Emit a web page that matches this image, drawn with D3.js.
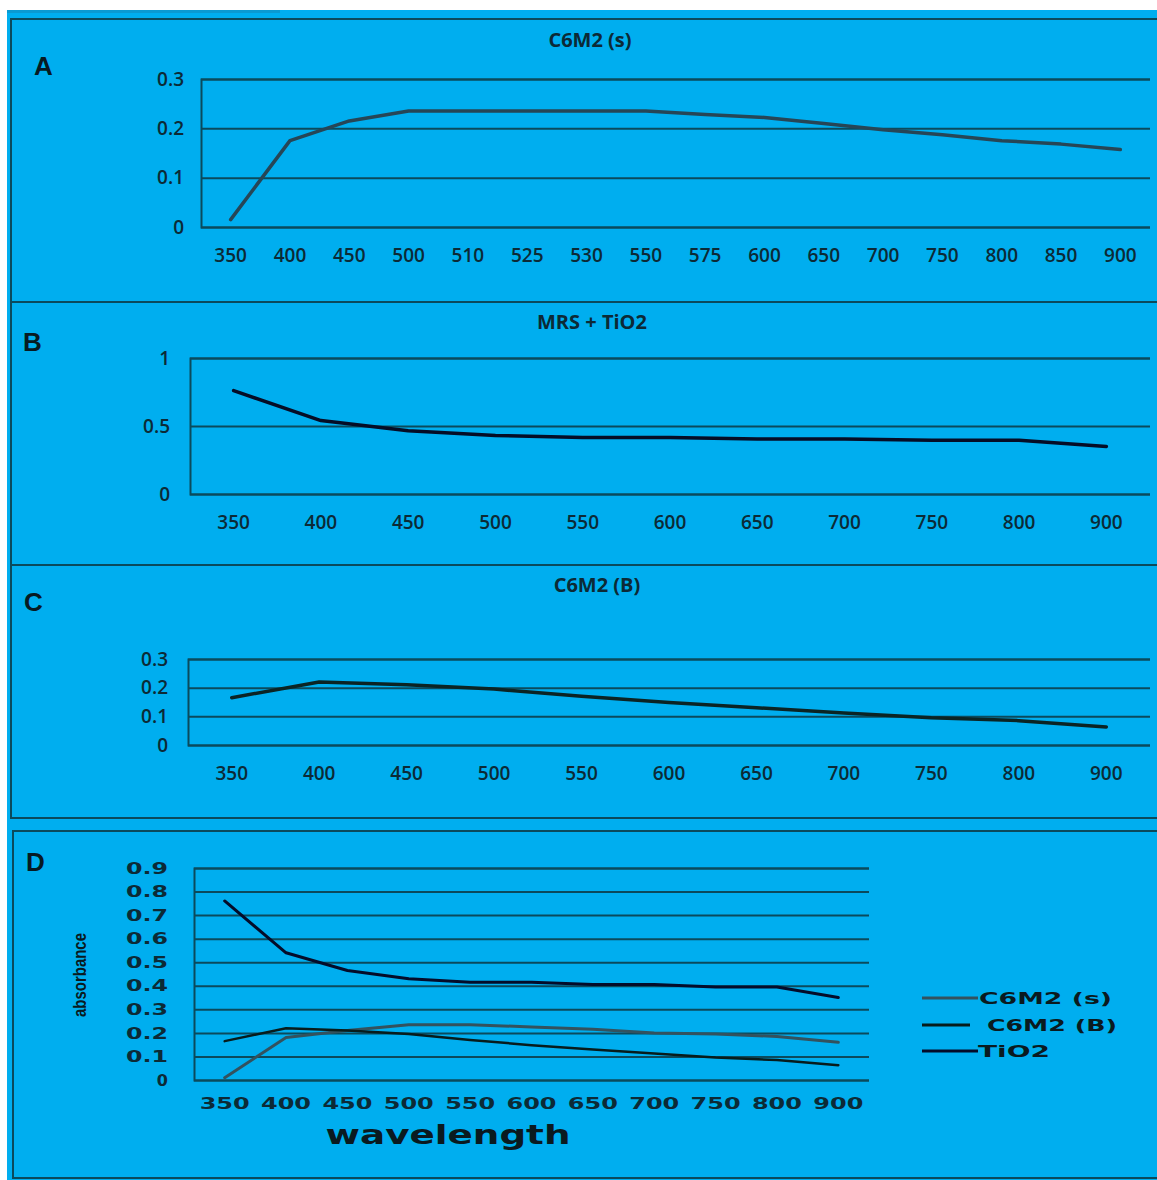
<!DOCTYPE html>
<html>
<head>
<meta charset="utf-8">
<script src="https://cdn.jsdelivr.net/npm/d3@7"></script>
<style>
  body { margin: 0; background: #fff; }
  svg { display: block; }
</style>
</head>
<body>
<div id="chart"></div>
<script>
// panel A: C6M2 (s)
const wavesA = ['350', '400', '450', '500', '510', '525', '530', '550', '575', '600', '650', '700', '750', '800', '850', '900']
const c6m2sA = [0.015, 0.175, 0.215, 0.235, 0.235, 0.235, 0.235, 0.235, 0.228, 0.222, 0.21, 0.197, 0.187, 0.175, 0.168, 0.157]

// panels B, C, D share these wavelengths
const waves = ['350', '400', '450', '500', '550', '600', '650', '700', '750', '800', '900']
const tio2 = [0.76, 0.54, 0.465, 0.43, 0.415, 0.415, 0.405, 0.405, 0.395, 0.395, 0.35]
const c6m2b = [0.165, 0.22, 0.21, 0.195, 0.17, 0.148, 0.13, 0.112, 0.095, 0.085, 0.063]
const c6m2sD = [0.01, 0.18, 0.21, 0.235, 0.235, 0.225, 0.215, 0.2, 0.195, 0.185, 0.16]

const ticksA = [0, 0.1, 0.2, 0.3]
const ticksB = [0, 0.5, 1]
const ticksC = [0, 0.1, 0.2, 0.3]
const ticksD = [0, 0.1, 0.2, 0.3, 0.4, 0.5, 0.6, 0.7, 0.8, 0.9]

const legendNames = ['C6M2 (s)', ' C6M2 (B)', 'TiO2']

const W = 1157, H = 1180
const blue = '#00aeef'
const grid = '#0b4a5c'
const ink = '#0c2a36'

const svg = d3.select('#chart').append('svg').attr('width', W).attr('height', H)
svg.append('rect').attr('x', 7).attr('y', 10).attr('width', W - 7).attr('height', H - 10).attr('fill', blue)
svg.append('rect').attr('x', 7).attr('y', 10).attr('width', 273).attr('height', 3).attr('fill', '#0a9ad2')

// panel frames
const frames = [[11, 19, 302], [11, 302, 565], [11, 565, 818], [13, 831, 1178]]
frames.forEach(f => {
    svg.append('rect')
        .attr('x', f[0]).attr('y', f[1])
        .attr('width', W + 10 - f[0]).attr('height', f[2] - f[1])
        .attr('fill', 'none').attr('stroke', grid).attr('stroke-width', 2)
})

function styleText(sel, opt, len) {
    sel.attr('fill', ink).style('font-family', opt.font).style('font-size', opt.fs)
        .style('font-weight', opt.fw)
    if (len) {
        sel.attr('textLength', len).attr('lengthAdjust', 'spacingAndGlyphs')
    }
}

function panel(opt) {
    let x = d3.scaleBand().domain(opt.cats).range([opt.left, opt.right])
    let y = d3.scaleLinear().domain([0, opt.max]).range([opt.bottom, opt.top])
    let g = svg.append('g')

    // gridlines
    let yAxis = d3.axisLeft(y).tickValues(opt.ticks).tickSize(-(opt.right - opt.left))
        .tickFormat(d => opt.fmt ? opt.fmt(d) : d3.format('')(d)).tickPadding(opt.tickPad)
    let ga = g.append('g').attr('transform', 'translate(' + opt.left + ',0)').call(yAxis)
    ga.select('.domain').attr('stroke', grid).attr('stroke-width', 2)
    ga.selectAll('line').attr('stroke', grid).attr('stroke-width', 2)
    styleText(ga.selectAll('text'), opt, opt.yLen)

    let xAxis = d3.axisBottom(x).tickSize(0).tickPadding(opt.xPad)
    let gx = g.append('g').attr('transform', 'translate(0,' + opt.bottom + ')').call(xAxis)
    gx.select('.domain').remove()
    styleText(gx.selectAll('text'), opt, opt.xLen)

    opt.series.forEach(s => {
        let line = d3.line()
            .x((d, i) => x(opt.cats[i]) + x.bandwidth() / 2)
            .y(d => y(d))
        g.append('path').datum(s.values)
            .attr('d', line)
            .attr('fill', 'none')
            .attr('stroke', s.color)
            .attr('stroke-width', s.width)
            .attr('stroke-linejoin', 'round')
            .attr('stroke-linecap', 'round')
    })

    if (opt.title) {
        g.append('text').attr('x', opt.titleX).attr('y', opt.titleY)
            .attr('text-anchor', 'middle').attr('fill', ink)
            .style('font-family', 'Open Sans, sans-serif').style('font-size', '20px').style('font-weight', 700)
            .text(opt.title)
    }
    g.append('text').attr('x', opt.letterX).attr('y', opt.letterY)
        .attr('fill', '#071a22')
        .style('font-family', 'Liberation Sans, Arial, sans-serif').style('font-size', '26px').style('font-weight', 700)
        .text(opt.letter)
    return { x, y, g }
}

const calibri = 'Open Sans, sans-serif'

panel({
    cats: wavesA, left: 201, right: 1150, top: 79, bottom: 227, max: 0.3, ticks: ticksA,
    font: calibri, fs: '19px', fw: 600, tickPad: 17, xPad: 22,
    series: [{ values: c6m2sA, color: '#264656', width: 3.5 }],
    title: 'C6M2 (s)', titleX: 590, titleY: 47, letter: 'A', letterX: 34, letterY: 75
})

panel({
    cats: waves, left: 190, right: 1150, top: 358, bottom: 494, max: 1, ticks: ticksB,
    font: calibri, fs: '19px', fw: 600, tickPad: 20, xPad: 22,
    series: [{ values: tio2, color: '#050d26', width: 3.5 }],
    title: 'MRS + TiO2', titleX: 592, titleY: 329, letter: 'B', letterX: 23, letterY: 351
})

panel({
    cats: waves, left: 188, right: 1150, top: 659, bottom: 745, max: 0.3, ticks: ticksC,
    font: calibri, fs: '19px', fw: 600, tickPad: 20, xPad: 22,
    series: [{ values: c6m2b, color: '#0b2424', width: 3.5 }],
    title: 'C6M2 (B)', titleX: 597, titleY: 592, letter: 'C', letterX: 24, letterY: 611
})

const wide = 'DejaVu Sans, Verdana, sans-serif'
const pD = panel({
    cats: waves, left: 194, right: 869, top: 868, bottom: 1080, max: 0.9, ticks: ticksD,
    font: wide, fs: '16px', fw: 700, tickPad: 26, xPad: 18, xLen: 50, yLen: 42,
    fmt: d3.format('.1f'),
    series: [
        { values: c6m2sD, color: '#33525e', width: 3 },
        { values: c6m2b, color: '#071c1c', width: 2.5 },
        { values: tio2, color: '#040c2a', width: 3 }
    ],
    letter: 'D', letterX: 26, letterY: 871
})
pD.g.selectAll('.tick text').filter(d => d === 0).text('0').attr('textLength', null)

svg.append('text')
    .attr('x', 448).attr('y', 1144).attr('text-anchor', 'middle').attr('fill', '#0a1a20')
    .attr('textLength', 245).attr('lengthAdjust', 'spacingAndGlyphs')
    .style('font-family', wide).style('font-size', '26px').style('font-weight', 700)
    .text('wavelength')

svg.append('text')
    .attr('transform', 'translate(86,975) rotate(-90)')
    .attr('text-anchor', 'middle').attr('fill', '#0a1a20')
    .attr('textLength', 84).attr('lengthAdjust', 'spacingAndGlyphs')
    .style('font-family', 'Liberation Sans Narrow, Liberation Sans, sans-serif').style('font-size', '19px').style('font-weight', 700)
    .text('absorbance')

// legend
const legColors = ['#33525e', '#071c1c', '#040c2a']
const legY = [998, 1025, 1051]
const legX = [979, 987, 978]
const legLen = [133, 130, 72]
legendNames.forEach((n, i) => {
    svg.append('line').attr('x1', 922).attr('x2', i === 1 ? 970 : 978)
        .attr('y1', legY[i]).attr('y2', legY[i])
        .attr('stroke', legColors[i]).attr('stroke-width', 3)
    svg.append('text').attr('x', legX[i]).attr('y', legY[i] + 6).attr('fill', '#0a1a20')
        .attr('textLength', legLen[i]).attr('lengthAdjust', 'spacingAndGlyphs')
        .style('font-family', wide).style('font-size', '16px').style('font-weight', 700)
        .text(n.trim())
})
</script>
</body>
</html>
